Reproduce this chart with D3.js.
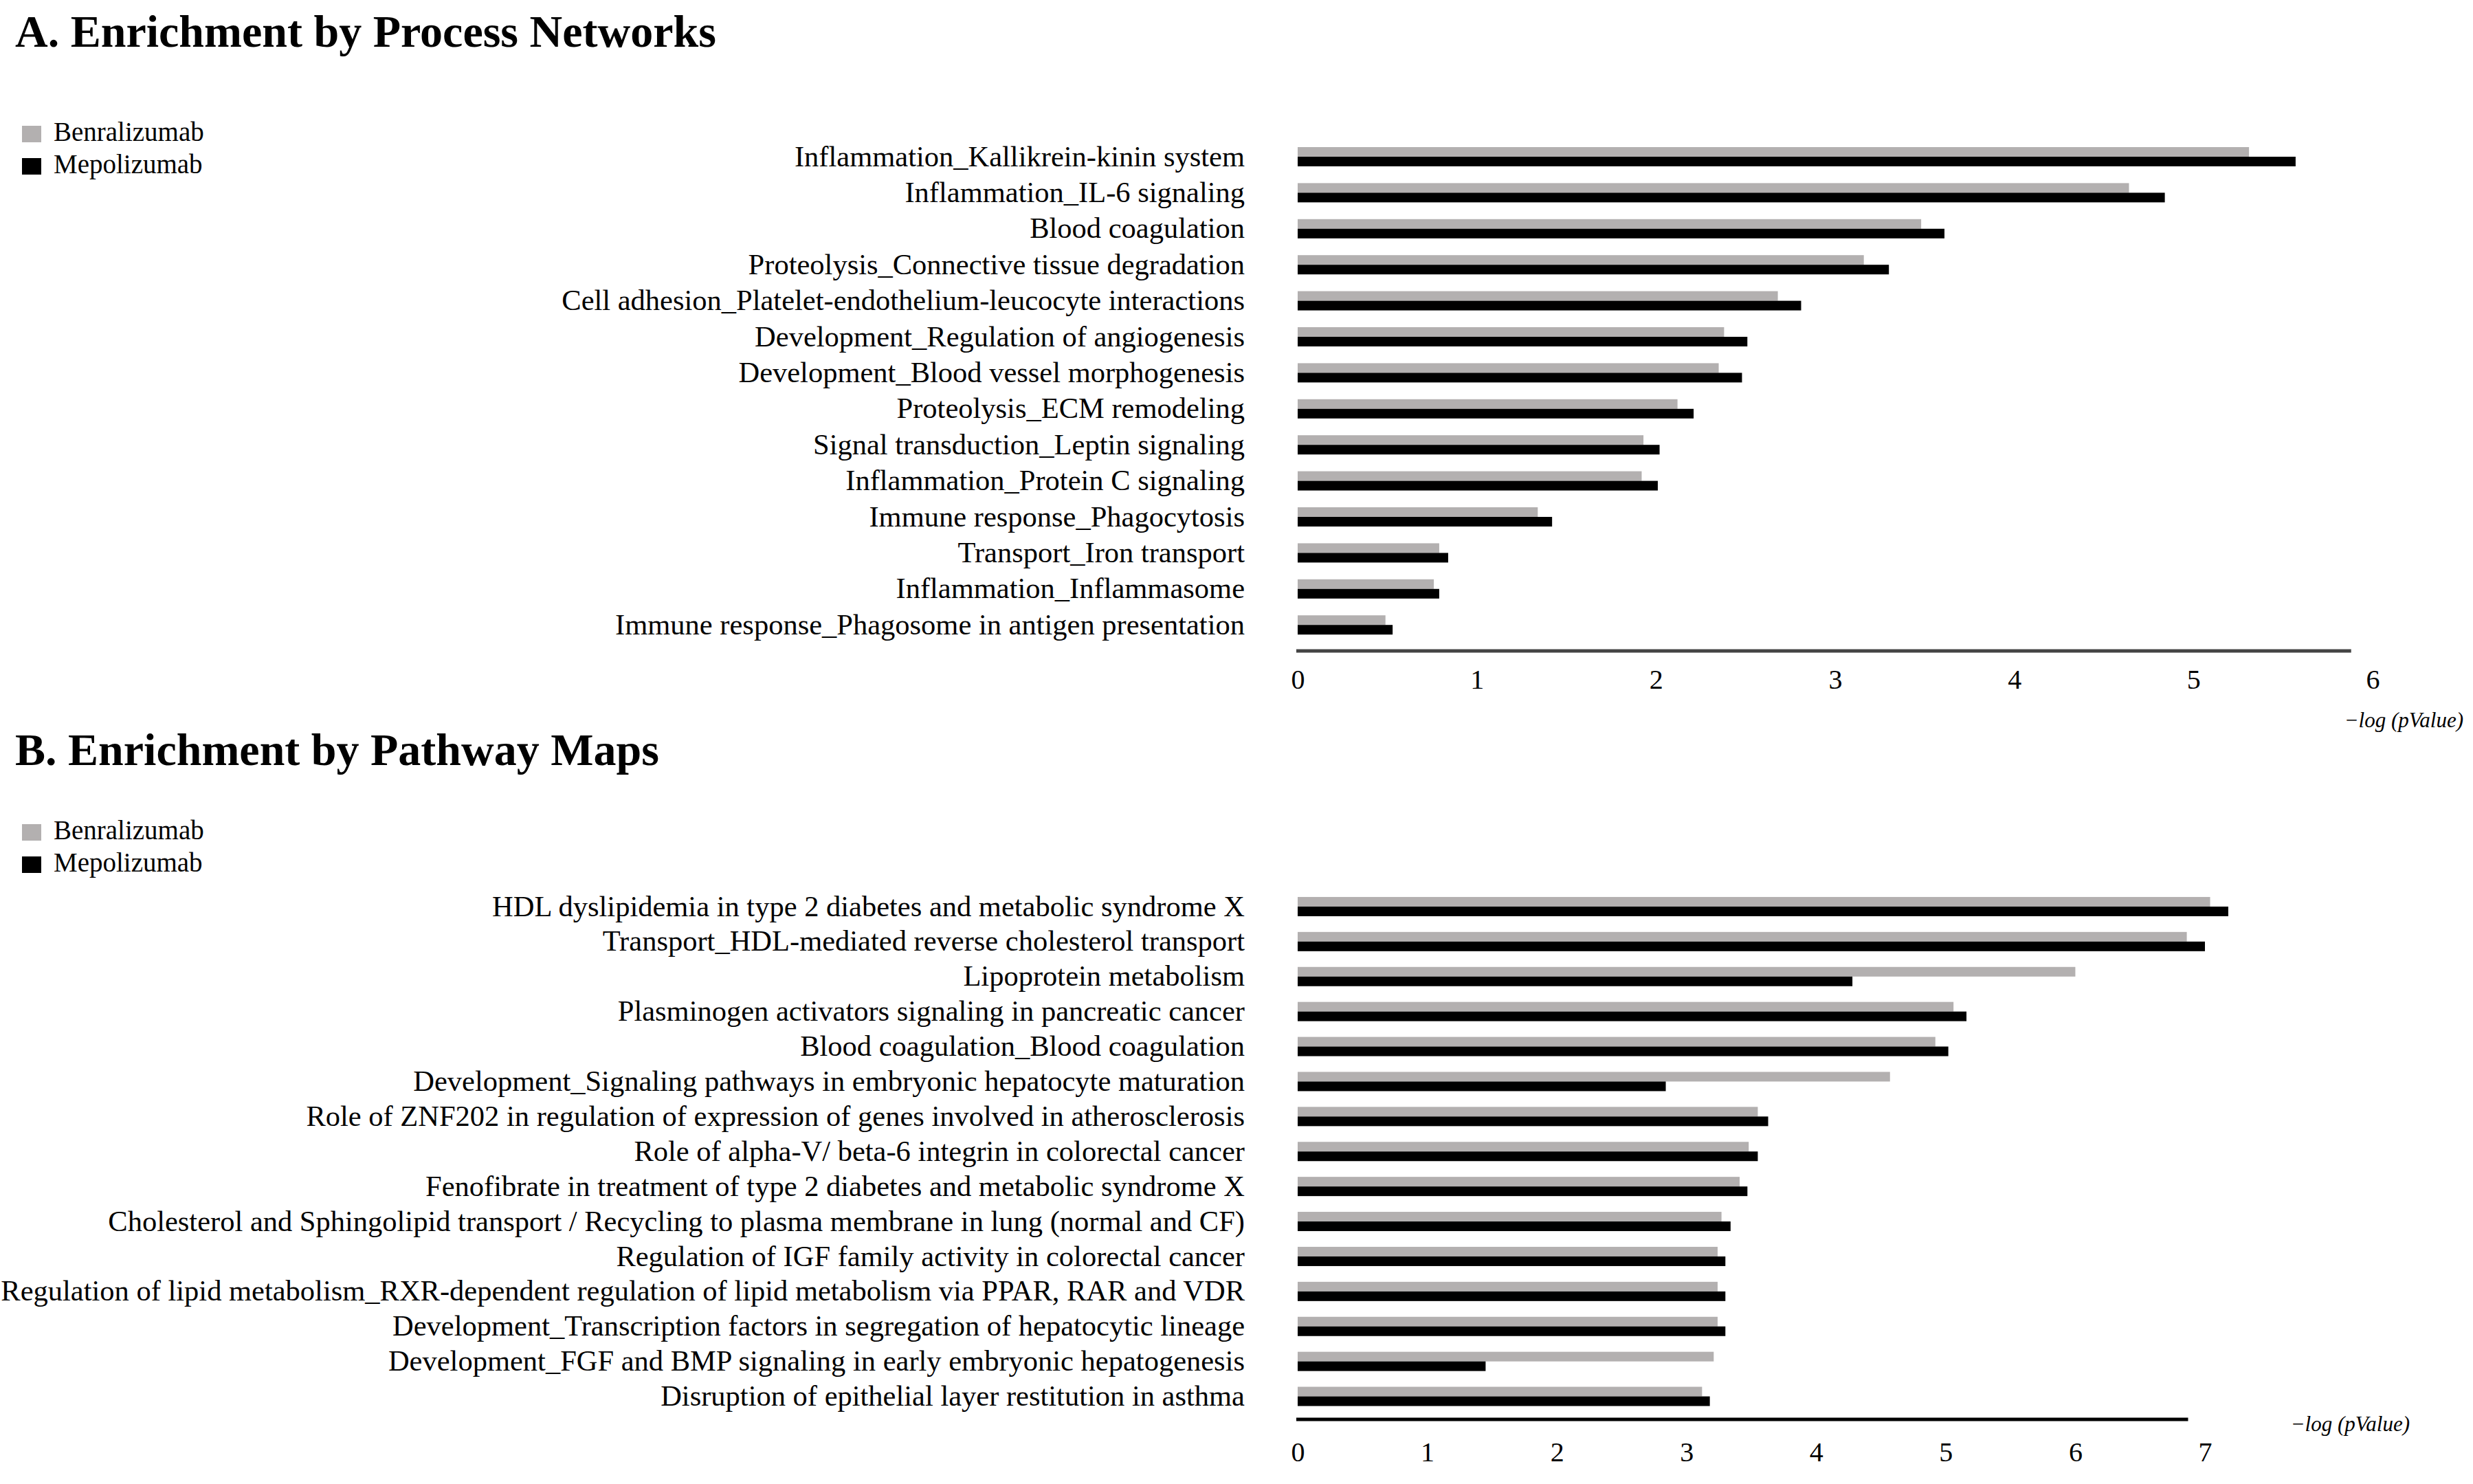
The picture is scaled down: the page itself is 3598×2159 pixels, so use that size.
<!DOCTYPE html>
<html><head><meta charset="utf-8">
<script src="https://cdn.jsdelivr.net/npm/d3@7"></script>
<style>
html,body{margin:0;padding:0;background:#fff;}
svg{display:block;}
text{font-family:"Liberation Serif","Times New Roman",serif;fill:#000;}
</style></head>
<body>
<svg id="chart" width="3598" height="2159"></svg>
<script>
// ---------- DATA ----------
const seriesNames = ["Benralizumab", "Mepolizumab"];

const categoriesA = [
  "Inflammation_Kallikrein-kinin  system",
  "Inflammation_IL-6 signaling",
  "Blood coagulation",
  "Proteolysis_Connective tissue degradation",
  "Cell adhesion_Platelet-endothelium-leucocyte interactions",
  "Development_Regulation of angiogenesis",
  "Development_Blood vessel morphogenesis",
  "Proteolysis_ECM remodeling",
  "Signal  transduction_Leptin signaling",
  "Inflammation_Protein C signaling",
  "Immune response_Phagocytosis",
  "Transport_Iron transport",
  "Inflammation_Inflammasome",
  "Immune response_Phagosome in antigen presentation"
];
const benralizumabA = [5.31, 4.64, 3.48, 3.16, 2.68, 2.38, 2.35, 2.12, 1.93, 1.92, 1.34, 0.79, 0.76, 0.49];
const mepolizumabA  = [5.57, 4.84, 3.61, 3.30, 2.81, 2.51, 2.48, 2.21, 2.02, 2.01, 1.42, 0.84, 0.79, 0.53];
const ticksA = [0, 1, 2, 3, 4, 5, 6];

const categoriesB = [
  "HDL dyslipidemia in type 2 diabetes and metabolic  syndrome X",
  "Transport_HDL-mediated reverse cholesterol  transport",
  "Lipoprotein metabolism",
  "Plasminogen  activators signaling  in pancreatic cancer",
  "Blood coagulation_Blood  coagulation",
  "Development_Signaling  pathways in embryonic hepatocyte maturation",
  "Role of ZNF202 in regulation of expression of genes involved in atherosclerosis",
  "Role of alpha-V/ beta-6 integrin in colorectal  cancer",
  "Fenofibrate in treatment of type 2 diabetes and metabolic  syndrome X",
  "Cholesterol and Sphingolipid transport / Recycling to plasma membrane in lung (normal and CF)",
  "Regulation  of IGF family activity in colorectal cancer",
  "Regulation  of lipid metabolism_RXR-dependent regulation of lipid metabolism via PPAR, RAR and VDR",
  "Development_Transcription factors in segregation  of hepatocytic lineage",
  "Development_FGF and BMP signaling  in early embryonic hepatogenesis",
  "Disruption of epithelial layer restitution in asthma"
];
const benralizumabB = [7.04, 6.86, 6.00, 5.06, 4.92, 4.57, 3.55, 3.48, 3.41, 3.27, 3.24, 3.24, 3.24, 3.21, 3.12];
const mepolizumabB  = [7.18, 7.00, 4.28, 5.16, 5.02, 2.84, 3.63, 3.55, 3.47, 3.34, 3.30, 3.30, 3.30, 1.45, 3.18];
const ticksB = [0, 1, 2, 3, 4, 5, 6, 7];

const titleA = "A. Enrichment by Process Networks";
const titleB = "B. Enrichment by Pathway Maps";
const axisTitle = "\u2212log (pValue)";

// ---------- STYLE ----------
const colors = ["#b3b0b0", "#000000"];
const svg = d3.select("#chart");

function panel(opts) {
  const g = svg.append("g");
  g.append("text").attr("x", 22).attr("y", opts.titleY)
    .attr("font-size", 66).attr("font-weight", "bold")
    .text(opts.title);
  seriesNames.forEach((name, i) => {
    const ly = opts.legendY + i * 47;
    g.append("rect").attr("x", 32).attr("y", ly - 22).attr("width", 28).attr("height", 24).attr("fill", colors[i]);
    g.append("text").attr("x", 78).attr("y", ly)
      .attr("font-size", 39)
      .text(name);
  });

  const x = d3.scaleLinear().domain(opts.domain).range(opts.xRange);
  const y = d3.scaleBand().domain(opts.cats).range(opts.yRange).paddingInner(0).paddingOuter(0);
  const barH = 14;

  const rows = opts.cats.map((c, i) => ({c, b: opts.ben[i], m: opts.mep[i]}));
  const rg = g.selectAll("g.row").data(rows).join("g").attr("class", "row");
  rg.append("rect").attr("x", x(0)).attr("y", d => y(d.c) + y.bandwidth() / 2 - barH)
    .attr("width", d => x(d.b) - x(0)).attr("height", barH).attr("fill", colors[0]);
  rg.append("rect").attr("x", x(0)).attr("y", d => y(d.c) + y.bandwidth() / 2)
    .attr("width", d => x(d.m) - x(0)).attr("height", barH).attr("fill", colors[1]);

  const yAxis = d3.axisLeft(y).tickSize(0).tickPadding(0);
  const ya = g.append("g").attr("transform", `translate(${opts.labelX},0)`).call(yAxis);
  ya.select(".domain").remove();
  ya.selectAll("text").attr("font-size", 42.5).attr("font-family", null).attr("fill", "#000");

  g.append("line").attr("x1", x(0) - 2).attr("x2", x(opts.lineEnd))
    .attr("y1", opts.axisY).attr("y2", opts.axisY)
    .attr("stroke", opts.lineColor).attr("stroke-width", 5);
  const xAxis = d3.axisBottom(x).tickValues(opts.ticks).tickFormat(d3.format("d")).tickSize(0).tickPadding(opts.tickPad);
  const xa = g.append("g").attr("transform", `translate(0,${opts.axisY})`).call(xAxis);
  xa.select(".domain").remove();
  xa.selectAll("text").attr("font-size", 40).attr("font-family", null).attr("fill", "#000");

  g.append("text").attr("x", opts.atX).attr("y", opts.atY)
    .attr("text-anchor", "end").attr("font-size", 31).attr("font-style", "italic")
    .text(axisTitle);
}

panel({
  title: titleA, titleY: 68, legendY: 205,
  cats: categoriesA, ben: benralizumabA, mep: mepolizumabA, ticks: ticksA,
  domain: [0, 6], xRange: [1888, 3452], yRange: [201.8, 201.8 + 14 * 52.4],
  labelX: 1811, axisY: 947, lineEnd: 5.88, lineColor: "#444", tickPad: 27,
  atX: 3584, atY: 1058
});
panel({
  title: titleB, titleY: 1113, legendY: 1221,
  cats: categoriesB, ben: benralizumabB, mep: mepolizumabB, ticks: ticksB,
  domain: [0, 7], xRange: [1888, 3208], yRange: [1293.5, 1293.5 + 15 * 50.9],
  labelX: 1811, axisY: 2065, lineEnd: 6.87, lineColor: "#000", tickPad: 33,
  atX: 3506, atY: 2082
});
</script>
</body></html>
